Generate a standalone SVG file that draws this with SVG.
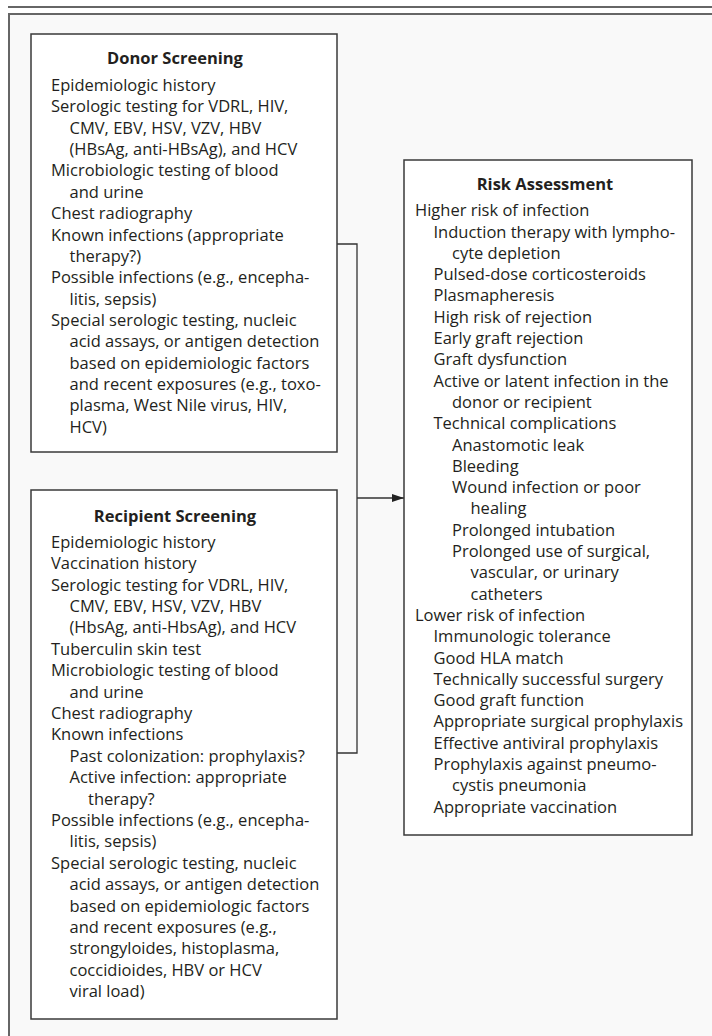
<svg xmlns="http://www.w3.org/2000/svg" width="712" height="1036" viewBox="0 0 712 1036">
<style>
.frame{stroke:#666;stroke-width:2;fill:none}
.box{fill:#fff;stroke:#3a3a3a;stroke-width:1.5}
.t{font-family:"Open Sans","Noto Sans","Liberation Sans",sans-serif;font-size:16.5px;fill:#231f20}
.h{font-family:"Open Sans","Noto Sans","Liberation Sans",sans-serif;font-size:16.5px;font-weight:bold;fill:#231f20;text-anchor:middle}
.c{stroke:#333;stroke-width:1.3;fill:none}
</style>
<defs>
<marker id="arr" markerWidth="12" markerHeight="8" refX="12" refY="4" orient="auto" markerUnits="userSpaceOnUse">
<path d="M0,0 L12,4 L0,8 Z" fill="#222"/>
</marker>
</defs>
<rect x="0" y="0" width="712" height="1036" fill="#fff"/>
<rect x="9" y="14" width="703" height="1022" fill="#f9f9f9"/>
<line class="frame" x1="8" y1="7" x2="712" y2="7"/>
<path class="frame" d="M9,1036 V14 H712"/>

<g id="connectors">
<path class="c" d="M337,244 H357 V753 H337"/>
<line class="c" x1="357" y1="498" x2="404" y2="498" marker-end="url(#arr)"/>
</g>

<g id="donor">
<rect class="box" x="31" y="34" width="306" height="418"/>
<text class="h" x="175" y="64">Donor Screening</text>
<text class="t" x="51" y="91">Epidemiologic history</text>
<text class="t" x="51" y="112.4">Serologic testing for VDRL, HIV,</text>
<text class="t" x="69.5" y="133.7">CMV, EBV, HSV, VZV, HBV</text>
<text class="t" x="69.5" y="155.1">(HBsAg, anti-HBsAg), and HCV</text>
<text class="t" x="51" y="176.4">Microbiologic testing of blood</text>
<text class="t" x="69.5" y="197.8">and urine</text>
<text class="t" x="51" y="219.1">Chest radiography</text>
<text class="t" x="51" y="240.5">Known infections (appropriate</text>
<text class="t" x="69.5" y="261.8">therapy?)</text>
<text class="t" x="51" y="283.2">Possible infections (e.g., encepha-</text>
<text class="t" x="69.5" y="304.5">litis, sepsis)</text>
<text class="t" x="51" y="325.9">Special serologic testing, nucleic</text>
<text class="t" x="69.5" y="347.2">acid assays, or antigen detection</text>
<text class="t" x="69.5" y="368.6">based on epidemiologic factors</text>
<text class="t" x="69.5" y="389.9">and recent exposures (e.g., toxo-</text>
<text class="t" x="69.5" y="411.3">plasma, West Nile virus, HIV,</text>
<text class="t" x="69.5" y="432.6">HCV)</text>
</g>

<g id="recipient">
<rect class="box" x="31" y="490" width="306" height="529"/>
<text class="h" x="175" y="521.7">Recipient Screening</text>
<text class="t" x="51" y="547.7">Epidemiologic history</text>
<text class="t" x="51" y="569.1">Vaccination history</text>
<text class="t" x="51" y="590.5">Serologic testing for VDRL, HIV,</text>
<text class="t" x="69.5" y="611.9">CMV, EBV, HSV, VZV, HBV</text>
<text class="t" x="69.5" y="633.3">(HbsAg, anti-HbsAg), and HCV</text>
<text class="t" x="51" y="654.7">Tuberculin skin test</text>
<text class="t" x="51" y="676.1">Microbiologic testing of blood</text>
<text class="t" x="69.5" y="697.5">and urine</text>
<text class="t" x="51" y="718.9">Chest radiography</text>
<text class="t" x="51" y="740.3">Known infections</text>
<text class="t" x="69.5" y="761.7">Past colonization: prophylaxis?</text>
<text class="t" x="69.5" y="783.1">Active infection: appropriate</text>
<text class="t" x="88" y="804.5">therapy?</text>
<text class="t" x="51" y="825.9">Possible infections (e.g., encepha-</text>
<text class="t" x="69.5" y="847.3">litis, sepsis)</text>
<text class="t" x="51" y="868.7">Special serologic testing, nucleic</text>
<text class="t" x="69.5" y="890.1">acid assays, or antigen detection</text>
<text class="t" x="69.5" y="911.5">based on epidemiologic factors</text>
<text class="t" x="69.5" y="932.9">and recent exposures (e.g.,</text>
<text class="t" x="69.5" y="954.3">strongyloides, histoplasma,</text>
<text class="t" x="69.5" y="975.7">coccidioides, HBV or HCV</text>
<text class="t" x="69.5" y="997.1">viral load)</text>
</g>

<g id="risk">
<rect class="box" x="404" y="160" width="288" height="675"/>
<text class="h" x="545" y="190">Risk Assessment</text>
<text class="t" x="415" y="216.2">Higher risk of infection</text>
<text class="t" x="433.5" y="237.5">Induction therapy with lympho-</text>
<text class="t" x="452" y="258.8">cyte depletion</text>
<text class="t" x="433.5" y="280.1">Pulsed-dose corticosteroids</text>
<text class="t" x="433.5" y="301.4">Plasmapheresis</text>
<text class="t" x="433.5" y="322.7">High risk of rejection</text>
<text class="t" x="433.5" y="344">Early graft rejection</text>
<text class="t" x="433.5" y="365.3">Graft dysfunction</text>
<text class="t" x="433.5" y="386.6">Active or latent infection in the</text>
<text class="t" x="452" y="407.9">donor or recipient</text>
<text class="t" x="433.5" y="429.2">Technical complications</text>
<text class="t" x="452" y="450.5">Anastomotic leak</text>
<text class="t" x="452" y="471.8">Bleeding</text>
<text class="t" x="452" y="493.1">Wound infection or poor</text>
<text class="t" x="470.5" y="514.4">healing</text>
<text class="t" x="452" y="535.7">Prolonged intubation</text>
<text class="t" x="452" y="557">Prolonged use of surgical,</text>
<text class="t" x="470.5" y="578.3">vascular, or urinary</text>
<text class="t" x="470.5" y="599.6">catheters</text>
<text class="t" x="415" y="620.9">Lower risk of infection</text>
<text class="t" x="433.5" y="642.2">Immunologic tolerance</text>
<text class="t" x="433.5" y="663.5">Good HLA match</text>
<text class="t" x="433.5" y="684.8">Technically successful surgery</text>
<text class="t" x="433.5" y="706.1">Good graft function</text>
<text class="t" x="433.5" y="727.4">Appropriate surgical prophylaxis</text>
<text class="t" x="433.5" y="748.7">Effective antiviral prophylaxis</text>
<text class="t" x="433.5" y="770">Prophylaxis against pneumo-</text>
<text class="t" x="452" y="791.3">cystis pneumonia</text>
<text class="t" x="433.5" y="812.6">Appropriate vaccination</text>
</g>
</svg>
